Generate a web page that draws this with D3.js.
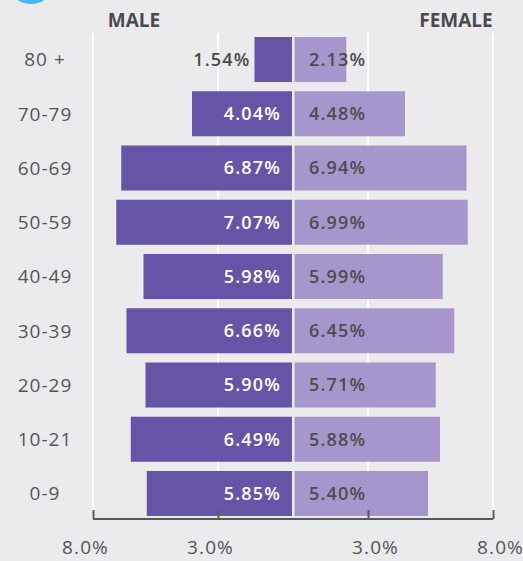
<!DOCTYPE html>
<meta charset="utf-8">
<script src="https://d3js.org/d3.v7.min.js"></script>
<style>
  body { margin: 0; background: #ebebed; }
  text { font-family: "Open Sans", sans-serif; }
</style>
<div id="my_dataviz"></div>
<script>

// age groups, top to bottom
const ageGroups = ["80 +", "70-79", "60-69", "50-59", "40-49", "30-39", "20-29", "10-21", "0-9"];
// share of population (%)
const maleValues   = [1.54, 4.04, 6.87, 7.07, 5.98, 6.66, 5.90, 6.49, 5.85];
const femaleValues = [2.13, 4.48, 6.94, 6.99, 5.99, 6.45, 5.71, 5.88, 5.40];
// axis ticks (%)
const tickValues = [8, 3];

const width = 523, height = 561;
const cx = 293;

const svg = d3.select("#my_dataviz")
  .append("svg")
  .attr("width", width)
  .attr("height", height);

svg.append("rect")
  .attr("width", width).attr("height", height)
  .attr("fill", "#ebebed");

// little blue badge peeking in at the top left
svg.append("circle")
  .attr("cx", 31).attr("cy", -20).attr("r", 24)
  .attr("fill", "#45b6ee");

// scales
const xMale = d3.scaleLinear().domain([0, 8]).range([cx, cx - 200]);
const xFemale = d3.scaleLinear().domain([0, 8]).range([cx, cx + 200]);
const y = d3.scaleBand()
  .domain(ageGroups)
  .range([37, 516])
  .paddingInner(0.17)
  .paddingOuter(0);

const axisY = 519;

// white gridlines
const grid = [];
tickValues.forEach(t => { grid.push(xMale(t)); grid.push(xFemale(t)); });
svg.selectAll("gridlines")
  .data(grid)
  .join("line")
  .attr("x1", d => d).attr("x2", d => d)
  .attr("y1", 33).attr("y2", axisY)
  .attr("stroke", "#ffffff")
  .attr("stroke-width", 2);

// male bars
svg.selectAll("malebars")
  .data(maleValues)
  .join("rect")
  .attr("x", d => xMale(d))
  .attr("y", (d, i) => y(ageGroups[i]))
  .attr("width", d => xMale(0) - xMale(d) - 1)
  .attr("height", y.bandwidth())
  .attr("fill", "#6654a7");

// female bars
svg.selectAll("femalebars")
  .data(femaleValues)
  .join("rect")
  .attr("x", xFemale(0) + 1.5)
  .attr("y", (d, i) => y(ageGroups[i]))
  .attr("width", d => xFemale(d) - xFemale(0) - 1.5)
  .attr("height", y.bandwidth())
  .attr("fill", "#a597cb");

// male labels (white inside, dark outside for short bar)
svg.selectAll("malelabels")
  .data(maleValues)
  .join("text")
  .attr("x", d => d < 2 ? xMale(d) - 4 : cx - 12)
  .attr("y", (d, i) => y(ageGroups[i]) + y.bandwidth() / 2)
  .attr("dy", "0.36em")
  .attr("text-anchor", "end")
  .style("font-size", "18px")
  .style("font-weight", "600")
  .style("letter-spacing", "1.2px")
  .attr("fill", d => d < 2 ? "#4a4a4c" : "#ffffff")
  .text(d => d.toFixed(2) + "%");

// female labels
svg.selectAll("femalelabels")
  .data(femaleValues)
  .join("text")
  .attr("x", cx + 16)
  .attr("y", (d, i) => y(ageGroups[i]) + y.bandwidth() / 2)
  .attr("dy", "0.36em")
  .style("font-size", "18px")
  .style("font-weight", "600")
  .style("letter-spacing", "1.2px")
  .attr("fill", "#4d4d50")
  .text(d => d.toFixed(2) + "%");

// age group labels
svg.selectAll("agelabels")
  .data(ageGroups)
  .join("text")
  .attr("x", 45)
  .attr("y", d => y(d) + y.bandwidth() / 2)
  .attr("dy", "0.36em")
  .attr("text-anchor", "middle")
  .style("font-size", "19px")
  .style("letter-spacing", "1px")
  .attr("fill", "#555557")
  .text(d => d);

// headers
svg.append("text")
  .attr("x", 134).attr("y", 27)
  .attr("text-anchor", "middle")
  .style("font-size", "19px").style("font-weight", "bold")
  .attr("fill", "#4a4a4c")
  .text("MALE");
svg.append("text")
  .attr("x", 456).attr("y", 27)
  .attr("text-anchor", "middle")
  .style("font-size", "19px").style("font-weight", "bold")
  .attr("fill", "#4a4a4c")
  .text("FEMALE");

// bottom axis: two halves sharing one baseline, ticks pointing up
const fmt = d => d.toFixed(1) + "%";
const axisLeft = svg.append("g")
  .attr("transform", `translate(0,${axisY})`)
  .call(d3.axisTop(xMale).tickValues(tickValues).tickSize(9).tickFormat(fmt));
const axisRight = svg.append("g")
  .attr("transform", `translate(0,${axisY})`)
  .call(d3.axisTop(xFemale).tickValues(tickValues).tickSize(9).tickFormat(fmt));

[axisLeft, axisRight].forEach((g, k) => {
  g.select(".domain").remove();
  g.selectAll(".tick line")
    .attr("stroke", "#58585a")
    .attr("stroke-width", 2);
  g.selectAll(".tick text")
    .attr("y", 35)
    .attr("dy", 0)
    .attr("dx", k === 0 ? -8 : 7)
    .style("font-size", "19px")
    .style("font-family", "'Open Sans', sans-serif")
    .style("letter-spacing", "1.1px")
    .attr("fill", "#555557");
});

svg.append("line")
  .attr("x1", xMale(8)).attr("x2", xFemale(8))
  .attr("y1", axisY).attr("y2", axisY)
  .attr("stroke", "#58585a")
  .attr("stroke-width", 2);

</script>
